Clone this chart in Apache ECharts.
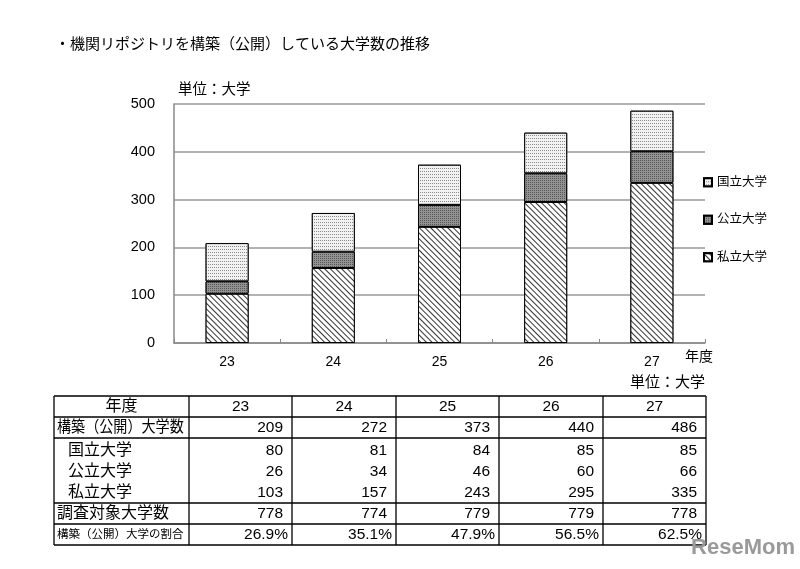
<!DOCTYPE html>
<html><head><meta charset="utf-8">
<script src="https://cdn.jsdelivr.net/npm/echarts@6/dist/echarts.min.js"></script>
<style>html,body{margin:0;padding:0;background:#fff}#c{width:800px;height:569px}</style>
</head><body><div id="c"></div>
<script>
var years = ['23','24','25','26','27'];
var kokuritsu = [80,81,84,85,85];
var kouritsu = [26,34,46,60,66];
var shiritsu = [103,157,243,295,335];
var totals = [209,272,373,440,486];
var surveyed = [778,774,779,779,778];
var ratios = ['26.9%','35.1%','47.9%','56.5%','62.5%'];
var yTicks = [0,100,200,300,400,500];
var seriesNames = ['国立大学','公立大学','私立大学'];
var rowLabels = ['年度','構築（公開）大学数','国立大学','公立大学','私立大学','調査対象大学数','構築（公開）大学の割合'];

var FONT = '"Liberation Sans", Arial, "Noto Sans CJK JP", sans-serif';
var chart = echarts.init(document.getElementById('c'));

// table graphic
var colX = [54,189,292,396,499,603,706];
var rowCY = [407,428,451,472,493,514,535];
var hLines = [396,417,438,503,524,545];
var g = [];
hLines.forEach(function(y){
  g.push({type:'line',shape:{x1:colX[0],y1:y,x2:colX[colX.length-1],y2:y},style:{stroke:'#000',lineWidth:1.3}});
});
colX.forEach(function(x){
  g.push({type:'line',shape:{x1:x,y1:hLines[0],x2:x,y2:hLines[hLines.length-1]},style:{stroke:'#000',lineWidth:1.3}});
});
var rowsData = [years, totals, kokuritsu, kouritsu, shiritsu, surveyed, ratios];
rowLabels.forEach(function(lab,r){
  var fs = r===6 ? 11.5 : 16;
  var isHeader = r===0;
  var indent = (r>=2 && r<=4) ? 68 : 57;
  var el = {type:'text',
    x: isHeader ? (colX[0]+colX[1])/2 : indent, y: rowCY[r],
    style:{text:lab,font:fs+'px '+FONT,fill:'#000',textAlign: isHeader?'center':'left',textVerticalAlign:'middle'}};
  if (r===1) { el.scaleX = 0.88; }
  g.push(el);
  rowsData[r].forEach(function(v,c){
    var fsv = 15.5;
    g.push({type:'text',
      x: isHeader ? (colX[c+1]+colX[c+2])/2 : colX[c+2]-(r===6?4:9),
      y: rowCY[r],
      style:{text:String(v),font:fsv+'px '+FONT,fill:'#000',textAlign: isHeader?'center':'right',textVerticalAlign:'middle'}});
  });
});
g.push({type:'text',x:55,y:45,style:{text:'・機関リポジトリを構築（公開）している大学数の推移',font:'15px '+FONT,fill:'#000',textVerticalAlign:'middle'}});
g.push({type:'text',x:178,y:90,style:{text:'単位：大学',font:'14.5px '+FONT,fill:'#000',textVerticalAlign:'middle'}});
g.push({type:'text',x:705,y:383,style:{text:'単位：大学',font:'15px '+FONT,fill:'#000',textAlign:'right',textVerticalAlign:'middle'}});
g.push({type:'text',x:685,y:357,style:{text:'年度',font:'14px '+FONT,fill:'#000',textVerticalAlign:'middle'}});
g.push({type:'text',x:795,y:548,style:{text:'ReseMom',font:'bold 22px '+FONT,fill:'#9a9a9a',textAlign:'right',textVerticalAlign:'middle'}});

var decalKoku = {symbol:'rect',symbolSize:1,color:'#8a8a8a',backgroundColor:'#f2f2f2',dashArrayX:[1,1],dashArrayY:[1,2]};
var decalKou = {symbol:'rect',symbolSize:1,color:'#555',backgroundColor:'#939393',dashArrayX:[1,1],dashArrayY:[1,1]};
var decalShi = {symbol:'rect',symbolSize:1,color:'#333',backgroundColor:'#fff',dashArrayX:[1,0],dashArrayY:[1,3],rotation:Math.PI/4};

function mk(name,data,col,decal){
  return {name:name,type:'bar',stack:'t',data:data,barWidth:43,
    itemStyle:{color:col,borderColor:'#000',borderWidth:1,decal:decal},
    emphasis:{disabled:true}};
}

chart.setOption({
  animation:false,
  aria:{decal:{show:false}},
  textStyle:{fontFamily:FONT},
  grid:{left:174,right:95,top:104,bottom:226,containLabel:false},
  legend:{orient:'vertical',left:698,top:171,itemWidth:8,itemHeight:8,itemGap:25,icon:'rect',
    data:seriesNames,textStyle:{fontSize:12.5,color:'#000',fontFamily:FONT},selectedMode:false},
  xAxis:{type:'category',data:years,
    axisLine:{lineStyle:{color:'#888',width:1.5}},
    axisTick:{show:true,inside:true,length:4,lineStyle:{color:'#888'}},
    axisLabel:{fontSize:14,color:'#000',margin:12,fontFamily:FONT}},
  yAxis:{type:'value',min:0,max:500,interval:100,
    axisLine:{show:true,lineStyle:{color:'#888',width:1.5}},
    axisTick:{show:false},
    axisLabel:{fontSize:14.5,color:'#000',margin:19,fontFamily:FONT},
    splitLine:{lineStyle:{color:'#999',width:1.5}}},
  series:[
    mk('私立大学',shiritsu,'#fff',decalShi),
    mk('公立大学',kouritsu,'#939393',decalKou),
    mk('国立大学',kokuritsu,'#f2f2f2',decalKoku)
  ],
  graphic:g
});
</script></body></html>
